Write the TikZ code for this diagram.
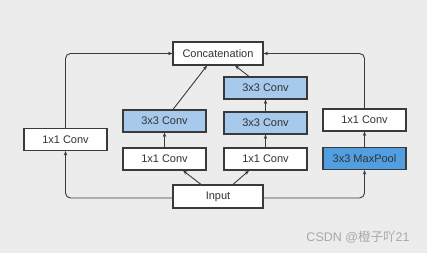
\documentclass[tikz,border=0pt]{standalone}
\usepackage{fontspec}
\setmainfont{Liberation Sans}
\newfontfamily\cjk{Noto Sans CJK SC}
\usetikzlibrary{arrows.meta}
\definecolor{bg}{HTML}{ECECEC}
\definecolor{lblue}{HTML}{A6C9EC}
\definecolor{dblue}{HTML}{519FE0}
\definecolor{edge}{HTML}{3A3A3A}
\definecolor{wm}{HTML}{A8A8A8}
\begin{document}
\begin{tikzpicture}[x=1pt,y=-1pt,
  box/.style={draw=edge,line width=1.1pt,fill=white!96!bg,minimum width=83pt,minimum height=22pt,inner sep=0pt,font=\fontsize{11}{13}\selectfont,text=black!80},
  wide/.style={box,minimum width=90pt,minimum height=23pt},
  conn/.style={draw=edge,line width=0.9pt,-{Stealth[length=4.5pt,width=3.5pt]},rounded corners=5pt}]
\fill[bg] (0,0) rectangle (427,253);
\useasboundingbox (0,0) rectangle (427,253);
\node[wide] (cat) at (218,53.5) {Concatenation};
\node[wide] (inp) at (218,196.5) {Input};
\node[box] (l1) at (65.5,139.5) {1x1 Conv};
\node[box] (b2a) at (164.5,159) {1x1 Conv};
\node[box,fill=lblue] (b2b) at (164.5,121) {3x3 Conv};
\node[box] (b3a) at (265.5,159) {1x1 Conv};
\node[box,fill=lblue] (b3b) at (265.5,123) {3x3 Conv};
\node[box,fill=lblue] (b3c) at (265.5,88) {3x3 Conv};
\node[box,fill=dblue] (mp) at (364.5,158.5) {3x3 MaxPool};
\node[box] (r1) at (364.5,120) {1x1 Conv};
\node[text=wm,anchor=east,font=\fontsize{12.5}{14}\selectfont] (wmk) at (413,237) {CSDN @{\cjk 橙子吖}21};
% left branch
\draw[conn] (inp.west |- 0,198) -| (l1.south);
\draw[conn] (l1.north) |- (cat.west);
% right branch
\draw[conn] (inp.east |- 0,198) -| (mp.south);
\draw[conn] (mp.north) -- (r1.south);
\draw[conn] (r1.north) |- (cat.east);
% middle branches
\draw[conn] (inp.north -| 201,0) -- (b2a.south -| 183,0);
\draw[conn] (inp.north -| 233,0) -- (b3a.south -| 249,0);
\draw[conn] (b2a.north) -- (b2b.south);
\draw[conn] (b3a.north) -- (b3b.south);
\draw[conn] (b3b.north) -- (b3c.south);
\draw[conn] (b2b.north -| 173,0) -- (cat.south -| 207,0);
\draw[conn] (b3c.north -| 249,0) -- (cat.south -| 235,0);
\end{tikzpicture}
\end{document}
